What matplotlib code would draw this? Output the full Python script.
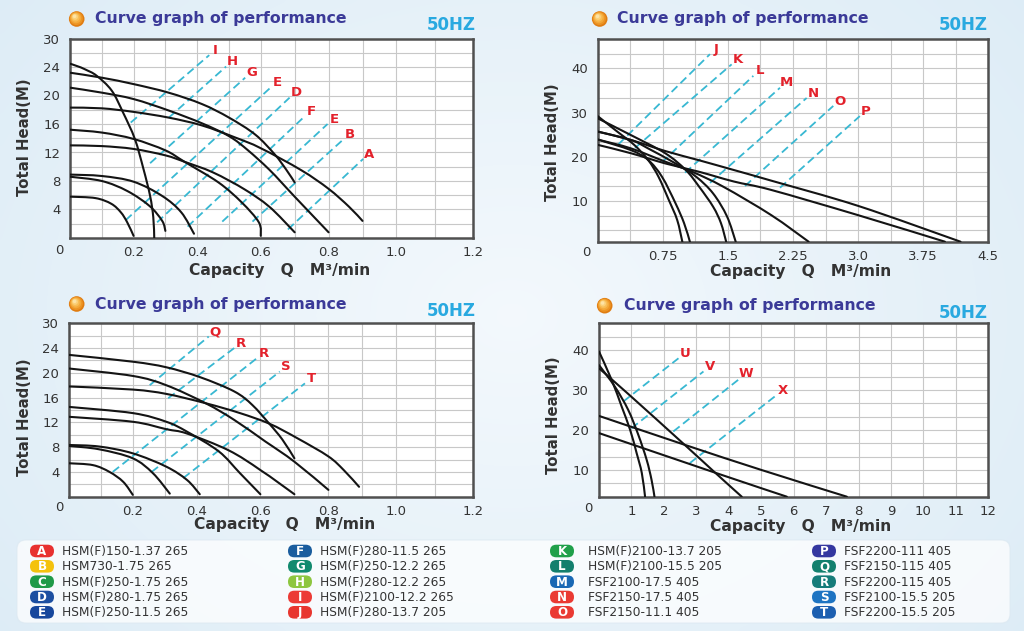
import numpy as np
import matplotlib
matplotlib.use("Agg")
import matplotlib.pyplot as plt
from matplotlib.patches import FancyBboxPatch, Circle, PathPatch
from matplotlib.path import Path

W, H = 1024, 631

# ---------------- panel 1 : A - I  (Q in M3/min, head in M)
P1_Q = [
    [0, 0.1, 0.2, 0.31, 0.415, 0.5, 0.583, 0.64, 0.675, 0.7],
    [0, 0.1, 0.2, 0.31, 0.415, 0.5, 0.56, 0.625, 0.7, 0.8],
    [0, 0.1, 0.2, 0.31, 0.415, 0.52, 0.6, 0.72, 0.8, 0.86, 0.9],
    [0, 0.1, 0.2, 0.3, 0.36, 0.467, 0.54, 0.594, 0.6],
    [0, 0.1, 0.2, 0.3, 0.36, 0.45, 0.55, 0.625, 0.7],
    [0, 0.1, 0.2, 0.29, 0.35, 0.39],
    [0, 0.1, 0.18, 0.25, 0.29, 0.3],
    [0, 0.08, 0.13, 0.16, 0.18, 0.2],
    [0, 0.046, 0.083, 0.131, 0.167, 0.204, 0.231, 0.252, 0.262, 0.265],
]
P1_H = [
    [23.2, 22.5, 21.6, 20.4, 18.8, 16.9, 14.5, 11.8, 9.6, 7.8],
    [21.1, 20.4, 19.5, 17.9, 16.1, 14.3, 12.3, 9.6, 5.8, 0.8],
    [18.3, 18.2, 17.7, 16.9, 15.8, 14.1, 12.6, 9.5, 6.9, 4.4, 2.4],
    [15.2, 14.8, 13.9, 12.3, 10.7, 7.8, 5.0, 2.2, 0.3],
    [13.0, 12.9, 12.5, 11.6, 10.7, 9.2, 6.8, 4.4, 0.8],
    [8.9, 8.7, 7.9, 5.9, 3.6, 0.6],
    [8.6, 8.0, 6.6, 4.5, 2.4, 1.0],
    [5.8, 5.6, 4.8, 3.6, 2.2, 0.3],
    [24.7, 23.7, 22.8, 20.7, 17.6, 13.9, 9.7, 5.9, 2.9, 0.0],
]
P1_TAGS = ["I", "H", "G", "E", "D", "F", "E", "B", "A"]
P1_Q0 = [0.191, 0.311, 0.252, 0.175, 0.274, 0.37, 0.479, 0.574, 0.68]
P1_H0 = [16.2, 16.9, 10.5, 2.5, 2.2, 1.6, 2.3, 2.3, 1.2]
P1_Q1 = [0.438, 0.491, 0.551, 0.631, 0.685, 0.73, 0.797, 0.845, 0.902]
P1_H1 = [26.5, 24.1, 22.5, 21.2, 19.7, 17.1, 16.0, 13.9, 11.1]

# ---------------- panel 2 : J - P
P2_Q = [
    [0, 0.225, 0.42, 0.58, 0.70, 0.82, 0.916, 0.975],
    [0, 0.383, 0.778, 1.015, 1.17, 1.33, 1.42, 1.48],
    [0, 0.383, 0.58, 0.74, 0.896, 0.995, 1.062],
    [0, 0.383, 0.58, 0.896, 1.133, 1.33, 1.49, 1.59],
    [0, 0.383, 0.778, 1.09, 1.45, 2.0, 2.43],
    [0, 0.383, 0.778, 1.17, 1.57, 2.0, 3.0, 4.18],
    [0, 0.383, 0.778, 1.17, 1.57, 2.0, 3.0, 4.0],
]
P2_H = [
    [29.2, 25.7, 22.7, 19.3, 15.5, 10.2, 5.7, 0.8],
    [28.7, 24.9, 20.8, 17.0, 13.2, 8.7, 5.0, 0.8],
    [23.9, 21.5, 19.3, 15.5, 9.5, 5.0, 0.8],
    [25.7, 23.8, 21.9, 18.5, 15.5, 11.7, 6.5, 0.8],
    [23.9, 21.9, 18.9, 16.6, 13.2, 6.8, 0.8],
    [25.7, 23.8, 21.3, 19.2, 17.0, 14.6, 8.9, 0.8],
    [22.7, 20.8, 18.5, 16.6, 14.4, 12.5, 6.8, 0.8],
]
P2_TAGS = ["J", "K", "L", "M", "N", "O", "P"]
P2_Q0 = [0.238, 0.43, 0.737, 1.006, 1.294, 1.697, 2.1]
P2_H0 = [22.8, 22.0, 18.7, 16.4, 14.1, 13.4, 13.0]
P2_Q1 = [1.293, 1.543, 1.793, 2.1, 2.407, 2.714, 3.02]
P2_H1 = [43.2, 40.9, 38.3, 35.6, 33.3, 31.5, 29.2]

# ---------------- panel 3 : Q - T
P3_Q = [
    [0, 0.2, 0.305, 0.411, 0.518, 0.575, 0.626, 0.665, 0.7],
    [0, 0.2, 0.305, 0.428, 0.518, 0.615, 0.7, 0.8],
    [0, 0.2, 0.305, 0.428, 0.536, 0.626, 0.71, 0.8, 0.845, 0.89],
    [0, 0.2, 0.305, 0.37, 0.47, 0.536, 0.6],
    [0, 0.2, 0.305, 0.37, 0.5, 0.6, 0.7],
    [0, 0.095, 0.2, 0.305, 0.37, 0.41],
    [0, 0.095, 0.2, 0.263, 0.316],
    [0, 0.075, 0.127, 0.17, 0.2],
]
P3_H = [
    [22.9, 21.8, 20.9, 19.3, 17.0, 14.8, 11.8, 9.2, 6.2],
    [20.7, 19.5, 18.0, 15.1, 12.4, 8.9, 5.65, 1.1],
    [17.8, 17.3, 16.6, 15.1, 13.5, 11.8, 9.4, 6.5, 4.3, 1.6],
    [14.5, 13.5, 12.1, 10.5, 7.3, 3.8, 0.4],
    [12.9, 12.1, 10.9, 10.2, 7.5, 4.3, 0.4],
    [8.35, 8.1, 7.0, 4.85, 2.7, 0.4],
    [8.2, 7.65, 6.2, 3.8, 0.5],
    [5.4, 5.1, 4.0, 2.4, 0.3],
]
P3_TAGS = ["Q", "R", "R", "S", "T"]
P3_Q0 = [0.253, 0.311, 0.137, 0.259, 0.358]
P3_H0 = [18.0, 15.9, 4.0, 4.0, 3.0]
P3_Q1 = [0.438, 0.518, 0.59, 0.657, 0.731]
P3_H1 = [26.8, 24.0, 22.4, 20.2, 18.3]

# ---------------- panel 4 : U - X
P4_Q = [
    [0, 0.39, 0.7, 0.96, 1.16, 1.32, 1.42],
    [0, 0.49, 0.9, 1.21, 1.47, 1.62, 1.71],
    [0, 0.9, 2.65, 3.58, 4.4],
    [0, 2.65, 5.0, 7.64],
    [0, 3.58, 5.79],
]
P4_H = [
    [39.6, 32.5, 25.8, 20.0, 14.2, 9.2, 3.3],
    [36.2, 30.8, 25.0, 18.8, 12.5, 7.5, 3.3],
    [35.4, 29.0, 16.2, 9.3, 3.3],
    [23.5, 16.25, 10.0, 3.3],
    [19.2, 9.3, 3.3],
]
P4_TAGS = ["U", "V", "W", "X"]
P4_Q0 = [0.75, 1.0, 2.29, 2.8]
P4_H0 = [27.1, 20.4, 19.6, 11.7]
P4_Q1 = [2.45, 3.22, 4.35, 5.48]
P4_H1 = [37.9, 34.6, 32.9, 28.75]

# ---------------- legend
LEG_LETTERS = list("ABCDEFGHIJKLMNOPQRST")
LEG_NAMES = [
    "HSM(F)150-1.37 265", "HSM730-1.75 265", "HSM(F)250-1.75 265",
    "HSM(F)280-1.75 265", "HSM(F)250-11.5 265", "HSM(F)280-11.5 265",
    "HSM(F)250-12.2 265", "HSM(F)280-12.2 265", "HSM(F)2100-12.2 265",
    "HSM(F)280-13.7 205", "HSM(F)2100-13.7 205", "HSM(F)2100-15.5 205",
    "FSF2100-17.5 405", "FSF2150-17.5 405", "FSF2150-11.1 405",
    "FSF2200-111 405", "FSF2150-115 405", "FSF2200-115 405",
    "FSF2100-15.5 205", "FSF2200-15.5 205",
]
LEG_COLORS = [
    "#e8312f", "#f4c20d", "#1f9a48", "#1c4fa1", "#17479c",
    "#1b5d9e", "#128a6e", "#8dc63f", "#ec3b36", "#e8362f",
    "#21a04a", "#137f6d", "#1968b4", "#ea3a33", "#ea3a33",
    "#3437a0", "#13806e", "#167c7a", "#1e74c2", "#1c5fb0",
]

CURVE_COLOR = "#141414"
DASH_COLOR = "#38b8d2"
TAG_COLOR = "#e3212b"
TEXT_COLOR = "#333333"


def piecewise(xs, ys):
    xs = np.asarray(xs, float)
    ys = np.asarray(ys, float)

    def f(v):
        v = np.asarray(v, float)
        out = np.interp(v, xs, ys)
        lo_slope = (ys[1] - ys[0]) / (xs[1] - xs[0])
        hi_slope = (ys[-1] - ys[-2]) / (xs[-1] - xs[-2])
        out = np.where(v < xs[0], ys[0] + (v - xs[0]) * lo_slope, out)
        out = np.where(v > xs[-1], ys[-1] + (v - xs[-1]) * hi_slope, out)
        return out
    return f


# hand drawn axes: 24..30 squeezed, x grid slightly uneven
Y_KNOTS = ([0, 24, 30], [0, 24, 28])
X_KNOTS = ([0, 0.6, 1.0, 1.2], [0, 0.568, 0.972, 1.2])


def smooth_path(q, h):
    # bezier path through the read points (catmull-rom tangents)
    pts = np.column_stack([q, h]).astype(float)
    ext = np.vstack([pts[0], pts, pts[-1]])
    verts = [pts[0]]
    codes = [Path.MOVETO]
    for i in range(len(pts) - 1):
        p0, p1, p2, p3 = ext[i], ext[i + 1], ext[i + 2], ext[i + 3]
        verts += [p1 + (p2 - p0) / 6, p2 - (p3 - p1) / 6, p2]
        codes += [Path.CURVE4] * 3
    return Path(verts, codes)


def make_panel(fig, box, xlim, ylim, xmaj, xlab, xmin, ymaj, ylab, ymin, squeezed=False):
    l, t, r, b = box
    ax = fig.add_axes([l / W, 1 - b / H, (r - l) / W, (b - t) / H], zorder=2)
    if squeezed:
        ax.set_xscale("function", functions=(piecewise(*X_KNOTS), piecewise(X_KNOTS[1], X_KNOTS[0])))
        ax.set_yscale("function", functions=(piecewise(*Y_KNOTS), piecewise(Y_KNOTS[1], Y_KNOTS[0])))
    ax.set_xlim(*xlim)
    ax.set_ylim(*ylim)
    ax.set_xticks(xmaj)
    ax.set_xticklabels(xlab)
    ax.set_xticks(xmin, minor=True)
    ax.set_yticks(ymaj)
    ax.set_yticklabels(ylab)
    ax.set_yticks(ymin, minor=True)
    ax.grid(which="both", color="#c8c8c8", lw=0.8)
    ax.set_axisbelow(True)
    ax.tick_params(which="both", length=0, labelsize=9.5, labelcolor=TEXT_COLOR)
    ax.tick_params(axis="x", pad=6)
    ax.tick_params(axis="y", pad=7)
    for sp in ax.spines.values():
        sp.set_color("#505050")
        sp.set_linewidth(1.8)
    ax.set_facecolor("white")
    return ax


def draw_curves(ax, qs, hs, tags, q0, h0, q1, h1):
    for q, h in zip(qs, hs):
        ax.add_patch(PathPatch(smooth_path(q, h), fill=False, edgecolor=CURVE_COLOR,
                               lw=1.5, capstyle="round", joinstyle="round", zorder=3))
    for tag, a, b, c, d in zip(tags, q0, h0, q1, h1):
        ax.plot([a, c], [b, d], color=DASH_COLOR, lw=1.3, dashes=(4.5, 2.4), zorder=2)
        ax.annotate(tag, (c, d), xytext=(4.5, 3.5), textcoords="offset points",
                    ha="center", va="center", color=TAG_COLOR, fontsize=9.5,
                    fontweight="bold", zorder=4)


fig = plt.figure(figsize=(W / 100, H / 100), dpi=100)

# background
bg = fig.add_axes([0, 0, 1, 1], zorder=0)
gx, gy = np.meshgrid(np.linspace(-1, 1, 256), np.linspace(-1, 1, 160))
amt = np.clip(np.sqrt(0.55 * gx ** 2 + 0.35 * gy ** 2), 0, 1)
light = np.array([0.955, 0.975, 0.99])
dark = np.array([0.865, 0.925, 0.965])
img = light[None, None, :] * (1 - amt[..., None]) + dark[None, None, :] * amt[..., None]
bg.imshow(img, extent=[0, 1, 0, 1], aspect="auto", interpolation="bicubic")
bg.axis("off")

p12_xmaj = [0.2, 0.4, 0.6, 0.8, 1.0, 1.2]
p12_xlab = ["0.2", "0.4", "0.6", "0.8", "1.0", "1.2"]
p12_xmin = [0.1, 0.3, 0.5, 0.7, 0.9, 1.1]
p12_ymaj = [4, 8, 12, 16, 20, 24, 30]
p12_ylab = ["4", "8", "12", "16", "20", "24", "30"]
p12_ymin = [2, 6, 10, 14, 18, 22, 27]

thirds = [10 / 3 * k for k in range(1, 15) if k % 3]

ax1 = make_panel(fig, (70, 38.5, 473, 238), (0, 1.2), (0, 30), p12_xmaj, p12_xlab, p12_xmin,
                 p12_ymaj, p12_ylab, p12_ymin, squeezed=True)
draw_curves(ax1, P1_Q, P1_H, P1_TAGS, P1_Q0, P1_H0, P1_Q1, P1_H1)

ax2 = make_panel(fig, (597.7, 38.7, 988.3, 241.7), (0, 4.5), (0.8, 46.7),
                 [0.75, 1.5, 2.25, 3.0, 3.75, 4.5], ["0.75", "1.5", "2.25", "3.0", "3.75", "4.5"],
                 [0.375, 1.125, 1.875, 2.625, 3.375, 4.125],
                 [10, 20, 30, 40], ["10", "20", "30", "40"], thirds)
draw_curves(ax2, P2_Q, P2_H, P2_TAGS, P2_Q0, P2_H0, P2_Q1, P2_H1)

ax3 = make_panel(fig, (69, 323.3, 473.3, 496.7), (0, 1.2), (0, 30), p12_xmaj, p12_xlab, p12_xmin,
                 p12_ymaj, p12_ylab, p12_ymin, squeezed=True)
draw_curves(ax3, P3_Q, P3_H, P3_TAGS, P3_Q0, P3_H0, P3_Q1, P3_H1)

ax4 = make_panel(fig, (599, 322.7, 988.3, 496.7), (0, 12), (3.3, 46.8),
                 list(range(1, 13)), [str(v) for v in range(1, 13)], [],
                 [10, 20, 30, 40], ["10", "20", "30", "40"], thirds)
draw_curves(ax4, P4_Q, P4_H, P4_TAGS, P4_Q0, P4_H0, P4_Q1, P4_H1)

# overlay in pixel coordinates for titles, labels and legend
ov = fig.add_axes([0, 0, 1, 1], zorder=3)
ov.set_xlim(0, W)
ov.set_ylim(H, 0)
ov.axis("off")

titles = [(76.7, 19, 95, 451, 25), (599.7, 19, 617, 963.5, 25),
          (76.7, 304, 95, 451, 310.7), (604.7, 305.7, 623.7, 963.5, 313)]
for bx, by, tx, hx, hy in titles:
    for k, col in enumerate(["#e07d12", "#ec9424", "#f4a93a", "#f8bd55", "#fbd17a", "#fde3a6"]):
        rr = 7.8 - k * 1.2
        ov.add_patch(Circle((bx - 0.35 * (7.8 - rr), by - 0.45 * (7.8 - rr)), rr,
                            color=col, lw=0, zorder=5))
    ov.text(tx, by, "Curve graph of performance", ha="left", va="center",
            fontsize=11.3, fontweight="bold", color="#3b3a98")
    ov.text(hx, hy, "50HZ", ha="center", va="center", fontsize=12,
            fontweight="bold", color="#29a9e0")

ylabels = [(25, 137), (552.7, 141.7), (25, 416.7), (553.7, 415)]
for x, y in ylabels:
    ov.text(x, y, "Total Head(M)", rotation=90, ha="center", va="center",
            fontsize=10.7, fontweight="bold", color=TEXT_COLOR)

xlabels = [(279.5, 270), (800.3, 271.7), (284.2, 525), (800.3, 526.7)]
for x, y in xlabels:
    ov.text(x, y, "Capacity   Q   M\u00b3/min", ha="center", va="center",
            fontsize=11.2, fontweight="bold", color=TEXT_COLOR)

zeros = [(59, 251), (586, 253), (59, 507.5), (588, 509)]
for x, y in zeros:
    ov.text(x, y, "0", ha="center", va="center", fontsize=9.5, color=TEXT_COLOR)

# legend
ov.add_patch(FancyBboxPatch((17, 540), 993, 83, boxstyle="round,pad=0,rounding_size=9",
                            facecolor="white", alpha=0.72, edgecolor="#dce8f1", lw=0.8))
col_pill = [42, 300, 562, 824]
col_text = [62, 320, 588, 844]
row_y = [551, 566.3, 581.7, 597, 612.3]
for i, (letter, name, color) in enumerate(zip(LEG_LETTERS, LEG_NAMES, LEG_COLORS)):
    c, r = divmod(i, 5)
    px, py = col_pill[c], row_y[r]
    ov.add_patch(FancyBboxPatch((px - 12, py - 6.3), 24, 12.6,
                                boxstyle="round,pad=0,rounding_size=6.3",
                                facecolor=color, edgecolor="none"))
    ov.text(px, py + 0.5, letter, ha="center", va="center", fontsize=8.6,
            fontweight="bold", color="white")
    ov.text(col_text[c], py + 0.5, name, ha="left", va="center", fontsize=8.8,
            color=TEXT_COLOR)

fig.savefig("out.png", dpi=100)
